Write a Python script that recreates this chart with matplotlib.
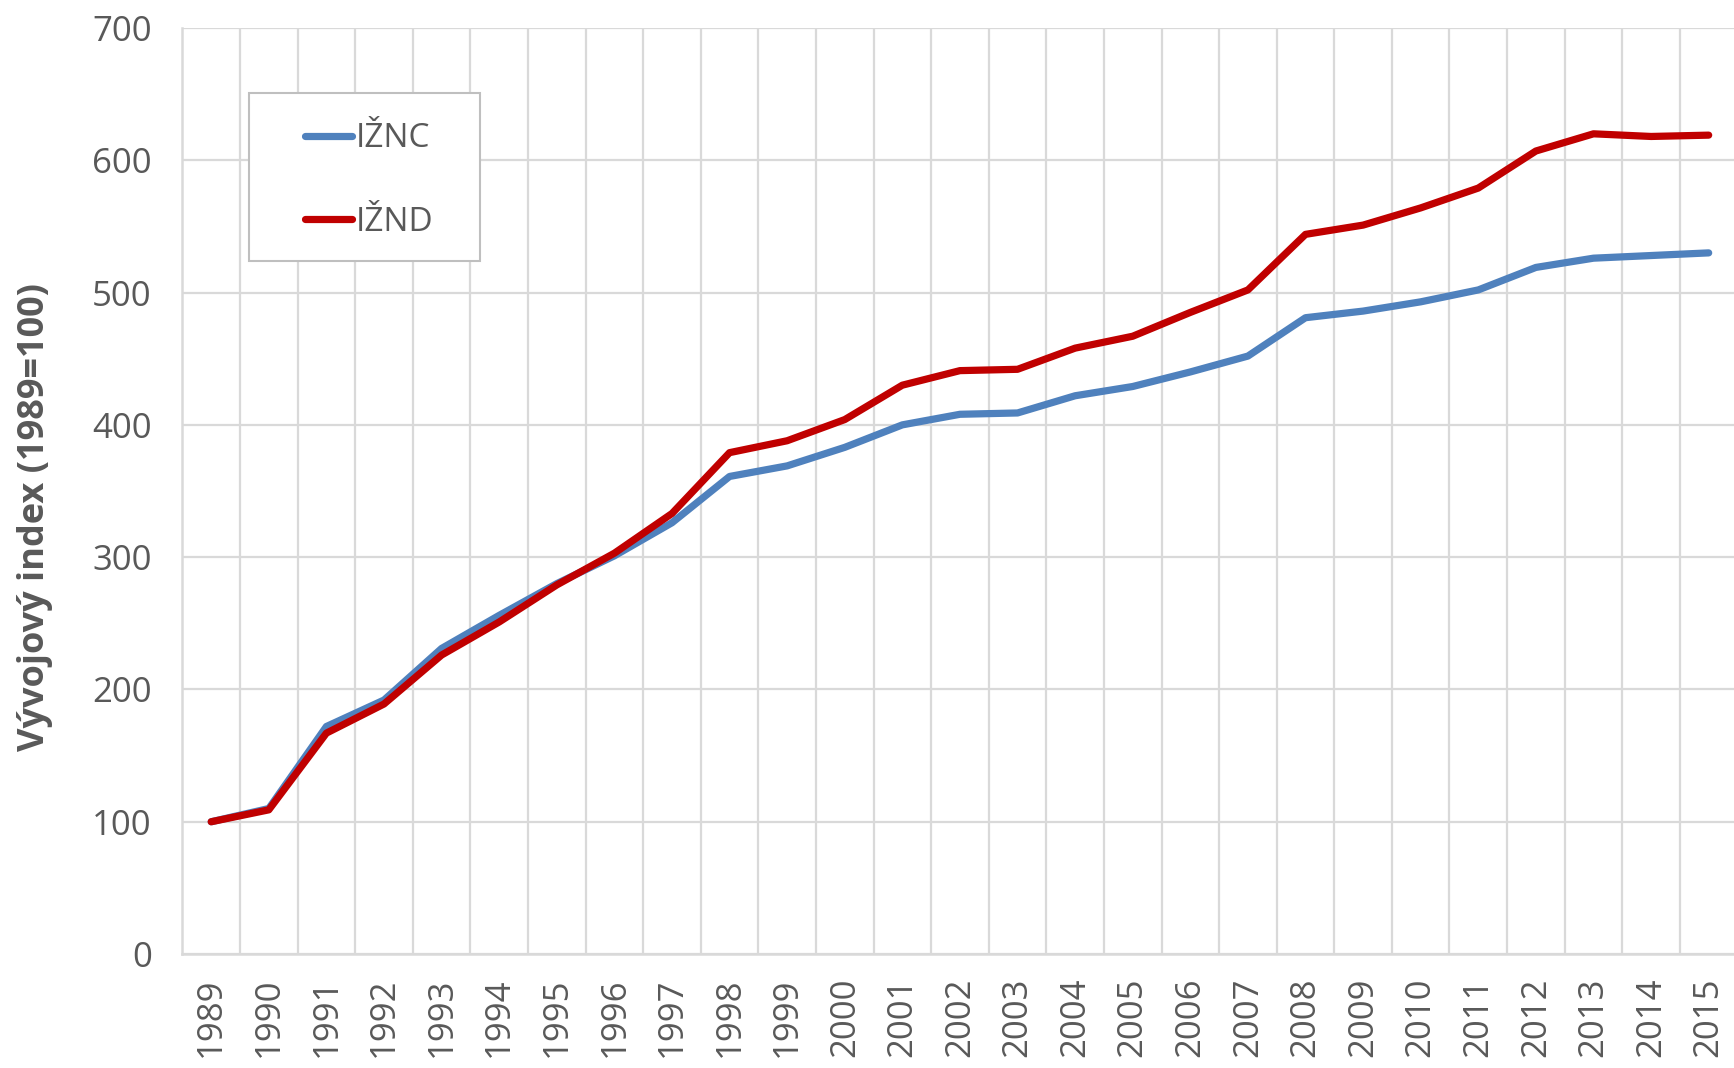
import matplotlib
matplotlib.use('Agg')
import matplotlib.pyplot as plt
from matplotlib.patches import Rectangle
from matplotlib.ticker import MultipleLocator

# data
years = [str(y) for y in range(1989, 2016)]
iznc = [100, 110, 172, 192, 231, 256, 280, 301, 326, 361, 369, 383, 400, 408, 409,
        422, 429, 440, 452, 481, 486, 493, 502, 519, 526, 528, 530]
iznd = [100, 109, 167, 189, 226, 251, 279, 303, 333, 379, 388, 404, 430, 441, 442,
        458, 467, 485, 502, 544, 551, 564, 579, 607, 620, 618, 619]
series_names = ['IŽNC', 'IŽND']
ylabel = 'Vývojový index (1989=100)'

text_col = '#595959'
grid_col = '#D9D9D9'
plt.rcParams['font.family'] = ['Open Sans', 'DejaVu Sans']

fig = plt.figure(figsize=(17.34, 10.68), dpi=100)
ax = fig.add_axes([0.1052, 0.1067, 0.8968, 0.8671])

x = list(range(len(years)))
l1, = ax.plot(x, iznc, color='#4F81BD', lw=5.2, solid_capstyle='round',
              solid_joinstyle='round', zorder=3)
l2, = ax.plot(x, iznd, color='#C00000', lw=5.2, solid_capstyle='round',
              solid_joinstyle='round', zorder=4)

ax.set_xlim(-0.5, len(years) - 0.5)
ax.set_ylim(0, 700)
ax.yaxis.set_major_locator(MultipleLocator(100))
ax.set_xticks(x)
ax.set_xticklabels(years, rotation=90)
ax.set_xticks([i + 0.5 for i in x], minor=True)

ax.grid(axis='y', which='major', color=grid_col, lw=1.6)
ax.grid(axis='x', which='minor', color=grid_col, lw=1.6)
ax.set_axisbelow(True)

for s in ['top', 'right']:
    ax.spines[s].set_visible(False)
for s in ['left', 'bottom']:
    ax.spines[s].set_color(grid_col)
    ax.spines[s].set_linewidth(1.8)

ax.tick_params(axis='both', which='both', length=0, colors=text_col, labelsize=25)
ax.tick_params(axis='y', pad=22)
ax.tick_params(axis='x', pad=17)

ax.set_ylabel(ylabel, fontsize=26, fontweight='bold', color=text_col)
ax.yaxis.set_label_coords(-0.083, 0.472)

# legend box
ax.add_patch(Rectangle((0.043, 0.7484), 0.1486, 0.1814, transform=ax.transAxes,
                       facecolor='white', edgecolor='#BFBFBF', lw=1.5, zorder=5))
leg = ax.legend([l1, l2], series_names, loc='center left',
                bbox_to_anchor=(0.079, 0.835), frameon=False, fontsize=24,
                handlelength=1.4, handletextpad=0.12, labelspacing=1.52,
                borderpad=0, borderaxespad=0)
leg.set_zorder(6)
for t in leg.get_texts():
    t.set_color(text_col)

fig.savefig('out.png', dpi=100)
